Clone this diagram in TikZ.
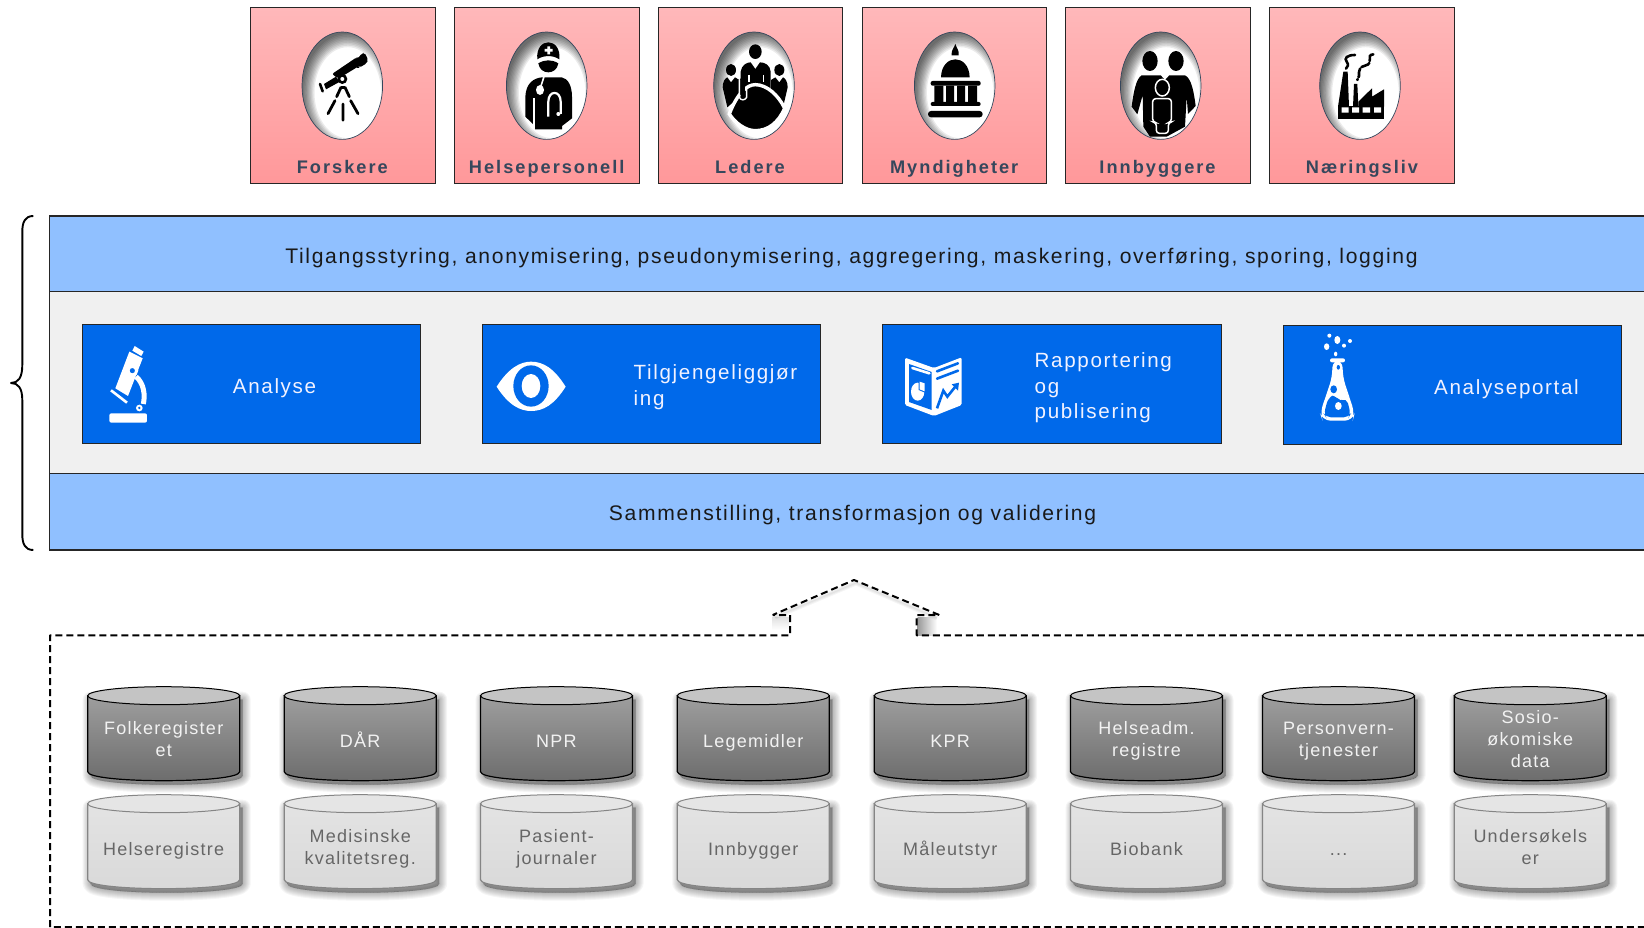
\documentclass[tikz,border=0pt]{standalone}
\usepackage{fontspec}
\setmainfont{Liberation Sans}
\newfontfamily\lblfont[LetterSpace=8]{Liberation Sans}
\newfontfamily\cylfont[LetterSpace=7]{Liberation Sans}
\newfontfamily\actfont[LetterSpace=11]{Liberation Sans Bold}
\definecolor{band}{HTML}{90C0FF}
\definecolor{panel}{HTML}{F0F0F0}
\definecolor{bluebox}{HTML}{0069EA}
\definecolor{slate}{HTML}{36475C}
\tikzset{
  zoomat/.style 2 args={shift={(#1,#2)},x=.33333pt,y=-.33333pt},
  strutted/.style={execute at begin node=\strut,execute at end node=\strut},
  actor/.style={draw=black!85,line width=1pt,inner sep=0,outer sep=0,top color={rgb,255:red,255;green,184;blue,186},bottom color={rgb,255:red,255;green,152;blue,154},minimum width=184.7pt,minimum height=176pt},
  actorlabel/.style={font=\actfont\fontsize{18.2}{22}\selectfont,text=slate,inner sep=0,strutted},
  bandbox/.style={draw=black!85,line width=1.2pt,fill=band},
  panelbox/.style={draw=black!85,line width=1.2pt,fill=panel},
  toolbox/.style={draw=black!85,line width=1pt,fill=bluebox,inner sep=0,outer sep=0},
  bandtext/.style={font=\lblfont\fontsize{21.1}{25}\selectfont,text=black!90,inner sep=0,strutted},
  tooltext/.style={font=\lblfont\fontsize{20.6}{25.7}\selectfont,text=white!95!blue,align=left,inner sep=0,strutted},
  cyltext/.style={font=\cylfont\fontsize{18}{22}\selectfont,align=center,inner sep=0,strutted},
  ico/.style={fill=black,draw=none},
  wico/.style={fill=white,draw=none},
  hole/.style={fill=bluebox,draw=none},
}
\newcommand{\cylshadow}[5]{%
  \foreach \w in {16,14,12,10,8,6,4,2,0}{\fill[black,opacity=.04,draw=black,line width=\w pt,line join=round,shift={(3,4)}] (#1,#3)--(#1,#4) .. controls (#1,#5) and (#2,#5) .. (#2,#4) -- (#2,#3)--cycle;}}
\newcommand{\cyldark}[4]{%
  \pgfmathsetmacro{\xa}{#2}\pgfmathsetmacro{\xb}{#2+152}\pgfmathsetmacro{\xc}{#2+76}
  \pgfmathsetmacro{\ya}{#3+9}\pgfmathsetmacro{\yb}{#3+85}\pgfmathsetmacro{\yc}{#3+97}\pgfmathsetmacro{\ym}{#3+56}
  \cylshadow{\xa}{\xb}{\ya}{\yb}{\yc}
  \shade[top color=black!38,bottom color=black!58,draw=black,line width=1.2pt] (\xa,\ya)--(\xa,\yb) .. controls (\xa,\yc) and (\xb,\yc) .. (\xb,\yb) -- (\xb,\ya)--cycle;
  \draw[draw=black,line width=1pt,fill=black!23] (\xc,\ya) ellipse [x radius=76,y radius=9];
  \node[cyltext,text=white!95!black] (#1) at (\xc,\ym) {#4};}
\newcommand{\cyllight}[4]{%
  \pgfmathsetmacro{\xa}{#2}\pgfmathsetmacro{\xb}{#2+152}\pgfmathsetmacro{\xc}{#2+76}
  \pgfmathsetmacro{\ya}{#3+9}\pgfmathsetmacro{\yb}{#3+85}\pgfmathsetmacro{\yc}{#3+97}\pgfmathsetmacro{\ym}{#3+56}
  \cylshadow{\xa}{\xb}{\ya}{\yb}{\yc}
  \shade[top color=black!11,bottom color=black!15,draw=black!48,line width=1.2pt] (\xa,\ya)--(\xa,\yb) .. controls (\xa,\yc) and (\xb,\yc) .. (\xb,\yb) -- (\xb,\ya)--cycle;
  \draw[draw=black!48,line width=1pt,fill=black!10] (\xc,\ya) ellipse [x radius=76,y radius=9];
  \node[cyltext,text=black!60] (#1) at (\xc,\ym) {#4};}
\newcommand{\portrait}[1]{%
  \fill[white] (#1,85.7) ellipse [x radius=40.3,y radius=53.7];
  \begin{scope}
    \clip (#1,85.7) ellipse [x radius=40.3,y radius=53.7];
    \foreach \k in {0,...,9}{\pgfmathsetmacro{\rx}{45-1.3*\k}\pgfmathsetmacro{\ry}{59-1.5*\k}
      \fill[black,opacity=.08,even odd rule] (#1-60,0) rectangle (#1+60,170) (#1+5.5,85.7+7) ellipse [x radius=\rx,y radius=\ry];}
  \end{scope}
  \draw[draw=slate,line width=.7pt] (#1,85.7) ellipse [x radius=40.3,y radius=53.7];}
\begin{document}
\begin{tikzpicture}[x=1pt,y=-1pt,line cap=butt]
\useasboundingbox (0,0) rectangle (1644,928);
\clip (0,0) rectangle (1644,928);
% ---- actors
\node[actor] (forskere) at (343,95.5) {};
\node[actor] (helse) at (546.8,95.5) {};
\node[actor] (ledere) at (750.6,95.5) {};
\node[actor] (myndig) at (954.4,95.5) {};
\node[actor] (innb) at (1158.3,95.5) {};
\node[actor] (naering) at (1362.3,95.5) {};
\node[actorlabel] (lforskere) at (342.3,169) {Forskere};
\node[actorlabel] (lhelse) at (546.7,169) {Helsepersonell};
\node[actorlabel] (lledere) at (750,169) {Ledere};
\node[actorlabel] (lmyndig) at (954.2,169) {Myndigheter};
\node[actorlabel] (linnb) at (1157.5,169) {Innbyggere};
\node[actorlabel] (lnaering) at (1362,169) {Næringsliv};
\portrait{342.3}\portrait{546.7}\portrait{754}\portrait{954.7}\portrait{1160.7}\portrait{1360}
% telescope
\begin{scope}[zoomat={240}{0}]
  \fill[ico,rounded corners=2pt] (276,222) -- (350,172) -- (353,176) -- (366,160) -- (374,158) -- (385,180) -- (380,190) -- (358,203) -- (354,200) -- (295,236) -- cycle;
  \fill[ico] (252,252) -- (288,230) -- (298,246) -- (258,268) -- cycle;
  \draw[black,line width=2.6pt,line cap=round] (240,252) -- (248,274);
  \fill[ico] (307,237) circle [radius=15];
  \fill[white] (307,237) circle [radius=6];
  \draw[black,line width=2.8pt,line cap=round] (303,262) -- (290,290) (315,262) -- (328,290) (285,302) -- (264,341) (309,312) -- (309,361) (332,302) -- (354,341);
  \draw[black,line width=2.4pt] (303,262) -- (315,262);
\end{scope}
% doctor
\begin{scope}[zoomat={240}{0}]
  \fill[ico] (892,178) .. controls (885,110) and (965,110) .. (958,178) .. controls (940,165) and (910,165) .. (892,178) -- cycle;
  \fill[white] (922,139) rectangle (930,163) (914,147) rectangle (938,155);
  \fill[ico] (895,190) .. controls (915,178) and (935,178) .. (955,190) .. controls (950,226) and (900,226) .. (895,190) -- cycle;
  \fill[ico] (856,290) .. controls (858,250) and (880,235) .. (905,232) -- (965,232) .. controls (985,235) and (996,260) .. (996,290) -- (996,355) -- (966,378) -- (966,388) -- (885,388) -- (885,378) -- (856,350) -- cycle;
  \draw[white,line width=1.6pt] (912,230) -- (903,258);
  \fill[white] (900,270) ellipse [x radius=12,y radius=15];
  \draw[white,line width=2pt] (883,295) -- (883,385);
  \draw[white,line width=2.2pt] (925,350) -- (925,305) .. controls (925,270) and (962,270) .. (962,305) -- (962,342);
  \fill[white] (955,342) circle [radius=6];
\end{scope}
% leaders
\begin{scope}[zoomat={650}{0}]
  \fill[ico] (316,155) ellipse [x radius=19,y radius=22];
  \fill[ico] (243,210) ellipse [x radius=15,y radius=18];
  \fill[ico] (388,210) ellipse [x radius=15,y radius=18];
  \fill[ico] (272,300) -- (272,215) .. controls (275,195) and (290,187) .. (302,187) -- (316,207) -- (330,187) .. controls (345,187) and (360,195) .. (362,215) -- (362,300) -- cycle;
  \fill[ico] (218,262) .. controls (218,245) and (225,235) .. (232,232) -- (243,247) -- (255,232) -- (268,240) -- (268,290) -- (232,322) -- cycle;
  \fill[ico] (413,262) .. controls (413,245) and (406,235) .. (399,232) -- (388,247) -- (376,232) -- (363,240) -- (363,290) -- (399,322) -- cycle;
  \draw[white,line width=1.4pt] (297,225) -- (297,245) (340,225) -- (340,245);
  \filldraw[fill=black,draw=white,line width=3.4pt] (238,342) .. controls (262,280) and (290,254) .. (316,254) .. controls (350,254) and (385,285) .. (404,325) .. controls (385,368) and (355,392) .. (316,392) .. controls (285,392) and (255,368) .. (238,342) -- cycle;
  \draw[black,line width=5pt,line cap=round] (278,240) -- (278,282);
  \draw[white,line width=1.4pt] (268,240) -- (268,292) .. controls (272,302) and (285,302) .. (290,292) -- (290,262);
\end{scope}
% capitol
\begin{scope}[zoomat={650}{0}]
  \fill[ico] (916,132) .. controls (920,145) and (928,150) .. (926,166) -- (905,166) .. controls (903,150) and (912,145) .. (916,132) -- cycle;
  \fill[ico] (873,232) .. controls (875,160) and (957,160) .. (959,232) -- cycle;
  \fill[ico,rounded corners=2pt] (842,243) rectangle (992,257);
  \fill[ico] (853,257) rectangle (880,307) (888,257) rectangle (912,307) (921,257) rectangle (945,307) (954,257) rectangle (981,307);
  \fill[ico,rounded corners=2pt] (842,306) rectangle (992,318);
  \fill[ico,rounded corners=3pt] (834,333) rectangle (998,352);
\end{scope}
% family
\begin{scope}
  \clip (1160.7,85.7) ellipse [x radius=40,y radius=53.4];
  \begin{scope}[zoomat={1050}{0}]
  \fill[ico] (300,183) ellipse [x radius=23,y radius=30];
  \fill[ico] (378,183) ellipse [x radius=23,y radius=30];
  \fill[ico] (275,226) -- (332,226) -- (345,240) -- (358,226) -- (405,226) .. controls (425,235) and (432,280) .. (437,318) -- (414,342) -- (410,290) -- (405,380) -- (350,410) -- (300,410) -- (280,380) -- (278,285) -- (262,343) -- (245,320) .. controls (250,280) and (258,235) .. (275,226) -- cycle;
  \filldraw[fill=black,draw=white,line width=1.5pt] (337,263) ellipse [x radius=21,y radius=25];
  \filldraw[fill=black,draw=white,line width=1.5pt,rounded corners=3pt] (308,296) -- (364,296) -- (364,366) -- (355,368) -- (355,400) -- (319,400) -- (319,368) -- (308,366) -- cycle;
  \end{scope}
\end{scope}
% factory
\begin{scope}[zoomat={1050}{0}]
  \fill[ico] (864,320) -- (880,215) -- (893,215) -- (897,320) -- cycle;
  \fill[ico] (909,320) -- (912,252) -- (922,252) -- (925,320) -- cycle;
  \fill[ico] (925,320) -- (925,305) -- (966,265) -- (966,290) -- (1002,268) -- (1002,320) -- cycle;
  \fill[ico] (864,318) rectangle (1002,357);
  \fill[white] (875,322) rectangle (896,338) (906,322) rectangle (927,338) (938,322) rectangle (960,338) (972,322) rectangle (993,338);
  \draw[black,line width=2.6pt,line cap=round] (915,165) .. controls (890,165) and (882,175) .. (890,185) .. controls (897,195) and (893,200) .. (888,206);
  \draw[black,line width=2.6pt,line cap=round,dash pattern=on 9pt off 2pt] (970,163) .. controls (945,165) and (975,190) .. (945,197) .. controls (915,205) and (935,225) .. (922,240);
\end{scope}
% ---- platform
\draw[bandbox] (49.5,216) rectangle (1660,291.7);
\draw[panelbox] (49.5,291.7) rectangle (1660,473.7);
\draw[bandbox] (49.5,473.7) rectangle (1660,550);
\node[bandtext] (tilgang) at (851.5,259) {Tilgangsstyring, anonymisering, pseudonymisering, aggregering, maskering, overføring, sporing, logging};
\node[bandtext] (sammen) at (852.5,515.7) {Sammenstilling, transformasjon og validering};
\node[toolbox,minimum width=338.3pt,minimum height=118.6pt] (analyse) at (251.2,384) {};
\node[toolbox,minimum width=338pt,minimum height=118.6pt] (tilgj) at (651.3,384) {};
\node[toolbox,minimum width=338.5pt,minimum height=118.6pt] (rapp) at (1051.8,384) {};
\node[toolbox,minimum width=338pt,minimum height=118.6pt] (portal) at (1452,384.8) {};
\node[tooltext] (tanalyse) at (274.5,388.5) {Analyse};
\node[tooltext,anchor=west] (ttilgj) at (633.5,389) {Tilgjengeliggjør\\ing};
\node[tooltext,anchor=west] (trapp) at (1034.5,389.5) {Rapportering\\og\\publisering};
\node[tooltext,anchor=west] (tportal) at (1434,389) {Analyseportal};
% microscope
\begin{scope}[zoomat={0}{200}]
  \fill[wico,rounded corners=2pt] (328,640) rectangle (441,668);
  \fill[wico] (388,455) -- (428,475) -- (384,588) -- (346,565) -- cycle;
  \fill[wico] (404,438) -- (431,455) -- (424,468) -- (397,452) -- cycle;
  \draw[white,line width=2.6pt] (333,571) -- (381,608);
  \fill[hole] (397,512) circle [radius=10];
  \draw[white,line width=3pt] (397,512) circle [radius=13];
  \draw[white,line width=5pt] (408,530) .. controls (432,550) and (436,585) .. (430,612);
  \fill[wico] (418,624) circle [radius=10];
  \fill[hole] (418,624) circle [radius=4];
\end{scope}
% eye
\begin{scope}[zoomat={480}{330}]
  \fill[wico] (50,170) .. controls (85,115) and (120,95) .. (153,95) .. controls (190,95) and (222,115) .. (257,170) .. controls (222,225) and (190,243) .. (153,243) .. controls (120,243) and (85,225) .. (50,170) -- cycle;
  \fill[hole] (153,168) ellipse [x radius=53,y radius=62];
  \fill[wico] (153,168) ellipse [x radius=28,y radius=36];
\end{scope}
% report
\begin{scope}[zoomat={890}{340}]
  \fill[wico,rounded corners=1.5pt] (45,53) -- (132,84) -- (215,52) -- (215,195) -- (132,228) -- (45,195) -- cycle;
  \fill[hole] (57,72) -- (125,96) -- (125,210) -- (57,186) -- cycle;
  \draw[white,line width=2.6pt,line cap=round] (67,84) -- (118,100);
  \fill[wico] (83,155) ellipse [x radius=20,y radius=27];
  \fill[hole] (86,150) -- (86,122) -- (105,128) -- (105,158) -- cycle;
  \fill[wico] (89,125) -- (104,130) -- (104,154) -- (89,148) -- cycle;
  \draw[bluebox,line width=2.6pt,line cap=round] (141,94) -- (204,70) (141,116) -- (204,92);
  \draw[bluebox,line width=2.6pt,line join=miter] (141,205) -- (160,152) -- (172,170) -- (196,140);
  \fill[hole] (185,133) -- (207,128) -- (204,152) -- cycle;
\end{scope}
% flask
\begin{scope}[zoomat={1300}{330}]
  \fill[wico] (88,17) circle [radius=6] (112,30) ellipse [x radius=9,y radius=12] (150,33) circle [radius=6] (132,47) circle [radius=6] (80,50) ellipse [x radius=8,y radius=10] (107,72) ellipse [x radius=5,y radius=7];
  \fill[wico,rounded corners=2pt] (90,85) -- (135,85) -- (135,97) -- (90,97) -- cycle;
  \fill[wico,rounded corners=8pt] (97,90) -- (128,90) -- (128,140) -- (164,250) -- (158,272) -- (68,272) -- (60,250) -- (97,140) -- cycle;
  \fill[hole] (115,112) ellipse [x radius=5,y radius=7];
  \fill[hole] (101,178) ellipse [x radius=10,y radius=12];
  \fill[hole,rounded corners=5pt] (84,205) .. controls (100,195) and (120,212) .. (140,205) -- (152,252) -- (146,262) -- (78,262) -- (72,252) -- cycle;
  \fill[wico] (115,228) ellipse [x radius=10,y radius=12];
  \fill[wico] (121,205) circle [radius=5];
\end{scope}
% brace
\draw[black,line width=1.9pt,line join=round] (33.3,216) .. controls (25,216) and (22.3,222) .. (22.3,232) -- (22.3,365) .. controls (22.3,378) and (18,383) .. (11,383) .. controls (18,383) and (22.3,388) .. (22.3,400) -- (22.3,534) .. controls (22.3,544) and (25,550) .. (33.3,550);
% ---- arrow shadow
\shade[left color=black!40,right color=white] (917.5,617) rectangle (937,635);
\shade[top color=black!12,bottom color=white] (772,617) rectangle (789,630);
\foreach \w in {5,3,1}{\draw[black,opacity=.04,line width=\w pt] (775,617) -- (856,583) -- (937,618);}
% ---- source outline
\coordinate (outA) at (50,927);
\coordinate (outB) at (50,635.3);
\coordinate (outC) at (790,635.3);
\coordinate (outD) at (790,615);
\coordinate (outE) at (772.7,615);
\coordinate (outF) at (854,580);
\coordinate (outG) at (939.3,615);
\coordinate (outH) at (916.7,615);
\coordinate (outI) at (916.7,635.3);
\coordinate (outJ) at (1660,635.3);
\coordinate (outK) at (1660,927);
\draw[black,line width=2pt,line join=bevel,dash pattern=on 7pt off 4pt] (outA) -- (outB) -- (outC) -- (outD) -- (outE) -- (outF) -- (outG) -- (outH) -- (outI) -- (outJ) -- (outK) -- cycle;
% ---- cylinders
\cyldark{folk}{87.7}{686.7}{Folkeregister\\et}
\cyldark{daar}{284.2}{686.7}{DÅR}
\cyldark{npr}{480.5}{686.7}{NPR}
\cyldark{legem}{677.3}{686.7}{Legemidler}
\cyldark{kpr}{874.2}{686.7}{KPR}
\cyldark{hadm}{1070.5}{686.7}{Helseadm.\\registre}
\cyldark{pvern}{1262.5}{686.7}{Personvern-\\tjenester}
\cyldark{sosio}{1454.3}{686.7}{Sosio-\\økomiske\\data}
\cyllight{hreg}{87.7}{794.7}{Helseregistre}
\cyllight{medk}{284.2}{794.7}{Medisinske\\kvalitetsreg.}
\cyllight{pas}{480.5}{794.7}{Pasient-\\journaler}
\cyllight{innb2}{677.3}{794.7}{Innbygger}
\cyllight{maal}{874.2}{794.7}{Måleutstyr}
\cyllight{bio}{1070.5}{794.7}{Biobank}
\cyllight{dots}{1262.5}{794.7}{...}
\cyllight{under}{1454.3}{794.7}{Undersøkels\\er}
\end{tikzpicture}
\end{document}
